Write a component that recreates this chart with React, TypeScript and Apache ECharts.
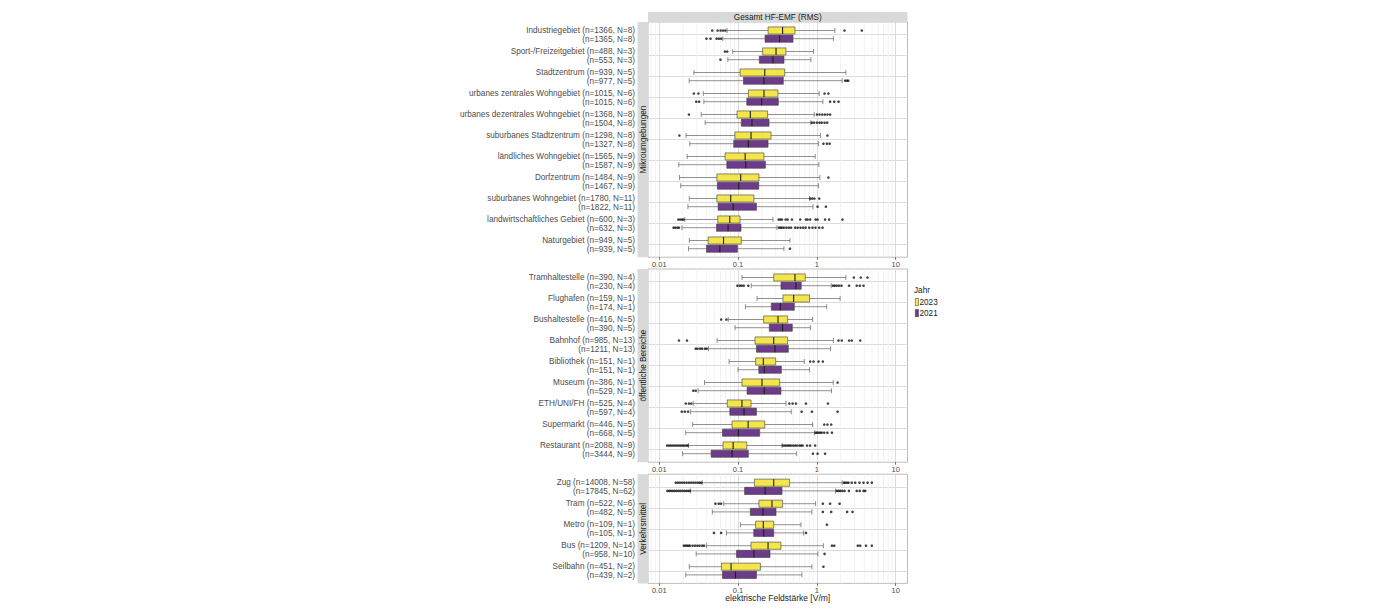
import React, { useEffect, useRef } from "react";
import * as echarts from "echarts";

// ---------- data ----------
const MIKRO_CATS = [
  "Industriegebiet", "Sport-/Freizeitgebiet", "Stadtzentrum", "urbanes zentrales Wohngebiet",
  "urbanes dezentrales Wohngebiet", "suburbanes Stadtzentrum", "ländliches Wohngebiet", "Dorfzentrum",
  "suburbanes Wohngebiet", "landwirtschaftliches Gebiet", "Naturgebiet",
];
const MIKRO_n23 = [1366, 488, 939, 1015, 1368, 1298, 1565, 1484, 1780, 600, 949];
const MIKRO_N23 = [8, 3, 5, 6, 8, 8, 9, 9, 11, 3, 5];
const MIKRO_n21 = [1365, 553, 977, 1015, 1504, 1327, 1587, 1467, 1822, 632, 939];
const MIKRO_N21 = [8, 3, 5, 6, 8, 8, 9, 9, 11, 3, 5];
// [lower whisker, q1, median, q3, upper whisker]
const MIKRO_S23 = [
  [0.0726, 0.24, 0.367, 0.527, 1.69], [0.0854, 0.205, 0.303, 0.405, 0.907], [0.0275, 0.106, 0.218, 0.39, 2.33],
  [0.0362, 0.135, 0.213, 0.321, 1.07], [0.0341, 0.097, 0.143, 0.237, 0.926], [0.0218, 0.091, 0.146, 0.262, 1.11],
  [0.0226, 0.0684, 0.123, 0.213, 0.952], [0.0181, 0.0538, 0.108, 0.184, 1.09], [0.0241, 0.0538, 0.0807, 0.159, 0.807],
  [0.0211, 0.0552, 0.0784, 0.106, 0.277], [0.0241, 0.0417, 0.0654, 0.11, 0.455],
];
const MIKRO_S21 = [
  [0.064, 0.22, 0.337, 0.497, 1.62], [0.0741, 0.186, 0.277, 0.382, 0.839], [0.024, 0.117, 0.213, 0.375, 2.09],
  [0.0368, 0.129, 0.199, 0.324, 1.19], [0.0382, 0.11, 0.15, 0.247, 0.839], [0.0244, 0.088, 0.135, 0.24, 1.05],
  [0.0177, 0.072, 0.125, 0.222, 1.06], [0.0187, 0.0546, 0.102, 0.183, 1.05], [0.0231, 0.0558, 0.0866, 0.171, 0.89],
  [0.0194, 0.0532, 0.0747, 0.109, 0.312], [0.0235, 0.0397, 0.0587, 0.0981, 0.382],
];
const MIKRO_O23 = [
  [0.047, 0.055, 0.06, 0.0645, 0.069, 2.24, 3.71], [0.068, 0.073], [], [0.0275, 0.0314, 1.25, 1.4],
  [0.0238, 1.0, 1.08, 1.17, 1.26, 1.36, 1.47], [0.018, 1.36], [], [1.4], [0.82, 0.87, 0.93, 1.07],
  [0.0175, 0.0185, 0.0195, 0.0203, 0.327, 0.343, 0.36, 0.401, 0.425, 0.482, 0.615, 0.726, 0.762, 0.823, 0.962, 1.02, 1.27, 1.43, 2.11],
  [],
];
const MIKRO_O21 = [
  [0.0397, 0.0447, 0.0534, 0.057, 0.061], [0.0597], [2.28, 2.4, 2.5], [0.0295, 0.0321, 1.47, 1.66, 1.88],
  [0.86, 0.92, 1.0, 1.08, 1.15, 1.25, 1.35], [1.21, 1.34, 1.45], [], [], [1.02, 1.3],
  [0.0152, 0.016, 0.017, 0.0178, 0.33, 0.345, 0.36, 0.38, 0.41, 0.44, 0.47, 0.53, 0.57, 0.62, 0.67, 0.72, 0.8, 0.88, 0.96, 1.07, 1.18],
  [0.455],
];

const OEFF_CATS = ["Tramhaltestelle", "Flughafen", "Bushaltestelle", "Bahnhof", "Bibliothek", "Museum", "ETH/UNI/FH", "Supermarkt", "Restaurant"];
const OEFF_n23 = [390, 159, 416, 985, 151, 386, 525, 446, 2088];
const OEFF_N23 = [4, 1, 5, 13, 1, 1, 4, 5, 9];
const OEFF_n21 = [230, 174, 390, 1211, 151, 529, 597, 668, 3444];
const OEFF_N21 = [4, 1, 5, 13, 1, 1, 4, 5, 9];
const OEFF_S23 = [
  [0.112, 0.283, 0.527, 0.712, 2.33], [0.174, 0.371, 0.507, 0.808, 1.97], [0.075, 0.211, 0.321, 0.425, 0.881],
  [0.0542, 0.164, 0.283, 0.425, 1.62], [0.0769, 0.167, 0.209, 0.3, 0.691], [0.0375, 0.112, 0.201, 0.337, 1.61],
  [0.027, 0.073, 0.112, 0.146, 0.405], [0.0265, 0.0838, 0.134, 0.218, 0.881], [0.0235, 0.0644, 0.0866, 0.129, 0.361],
];
const OEFF_S21 = [
  [0.147, 0.35, 0.542, 0.633, 1.52], [0.124, 0.264, 0.343, 0.517, 1.33], [0.0916, 0.249, 0.367, 0.487, 0.831],
  [0.0422, 0.171, 0.294, 0.434, 1.49], [0.1, 0.183, 0.215, 0.354, 0.808], [0.0311, 0.13, 0.215, 0.35, 1.53],
  [0.025, 0.0786, 0.119, 0.171, 0.473], [0.0217, 0.0634, 0.101, 0.188, 0.934], [0.0197, 0.0455, 0.0838, 0.135, 0.553],
];
const OEFF_O23 = [
  [2.94, 3.6, 4.38], [], [0.061, 0.071], [0.0178, 0.0225, 1.88, 2.07, 2.56, 2.77, 3.54], [0.823, 0.907, 1.05, 1.19],
  [1.83], [0.0217, 0.0238, 0.0255, 0.447, 0.492, 0.542, 0.726, 1.38], [1.24, 1.36, 1.52],
  [0.0126, 0.0133, 0.014, 0.0147, 0.0155, 0.0163, 0.0172, 0.0181, 0.019, 0.02, 0.021, 0.0222, 0.023,
    0.37, 0.39, 0.41, 0.43, 0.45, 0.47, 0.5, 0.53, 0.56, 0.6, 0.63, 0.66, 0.75, 0.82, 0.95],
];
const OEFF_O21 = [
  [0.098, 0.105, 0.111, 0.118, 0.135, 1.6, 1.68, 1.78, 1.9, 2.05, 2.56, 3.2, 3.5, 3.9], [], [],
  [0.029, 0.0306, 0.033, 0.035, 0.038, 0.04], [], [0.027, 0.029], [0.0193, 0.0211, 0.0232, 0.64, 0.864, 1.83],
  [0.96, 1.0, 1.05, 1.1, 1.15, 1.24, 1.36, 1.55], [0.89, 1.02, 1.27],
];

const VERK_CATS = ["Zug", "Tram", "Metro", "Bus", "Seilbahn"];
const VERK_n23 = [14008, 522, 109, 1209, 451];
const VERK_N23 = [58, 6, 1, 14, 2];
const VERK_n21 = [17845, 482, 105, 958, 439];
const VERK_N21 = [62, 5, 1, 10, 2];
const VERK_S23 = [
  [0.035, 0.161, 0.283, 0.451, 2.09], [0.0658, 0.184, 0.269, 0.367, 0.962], [0.107, 0.167, 0.209, 0.283, 0.627],
  [0.0398, 0.146, 0.24, 0.35, 1.21], [0.0241, 0.0616, 0.0815, 0.192, 0.864],
];
const VERK_S21 = [
  [0.025, 0.121, 0.22, 0.361, 1.72], [0.0472, 0.143, 0.207, 0.303, 0.864], [0.0713, 0.158, 0.211, 0.283, 0.678],
  [0.0294, 0.0954, 0.159, 0.254, 1.03], [0.0217, 0.0634, 0.0927, 0.171, 0.646],
];
const VERK_O23 = [
  [0.0162, 0.0172, 0.0183, 0.0195, 0.0208, 0.0222, 0.0237, 0.0253, 0.027, 0.0288, 0.0307, 0.0325, 0.0342,
    2.2, 2.28, 2.4, 2.52, 2.77, 3.06, 3.47, 3.9, 4.4, 4.97],
  [0.0516, 0.0568, 0.0609, 1.19, 1.47, 1.94], [1.34],
  [0.0205, 0.0215, 0.0225, 0.0235, 0.0245, 0.0265, 0.0285, 0.0305, 0.0325, 0.035, 0.037, 1.55, 1.66, 3.3, 3.54, 4.2, 4.97],
  [1.21],
];
const VERK_O21 = [
  [0.0127, 0.0134, 0.0141, 0.0149, 0.0157, 0.0166, 0.0175, 0.0185, 0.0196, 0.0208, 0.022, 0.0233, 0.0244,
    1.79, 1.88, 1.98, 2.1, 2.24, 2.55, 3.2, 3.5, 3.9, 4.1],
  [1.19, 1.52, 2.42, 2.83], [0.0494, 0.0609, 0.726], [1.25], [],
];

const X_TICKS = [0.01, 0.1, 1, 10];
const X_TICK_LABELS = ["0.01", "0.1", "1", "10"];
const X_MINOR = [0.008, 0.009, 0.02, 0.03, 0.04, 0.05, 0.06, 0.07, 0.08, 0.09, 0.2, 0.3, 0.4, 0.5, 0.6, 0.7, 0.8, 0.9, 2, 3, 4, 5, 6, 7, 8, 9];
const YEARS = ["2023", "2021"];
const STRIP_TOP = "Gesamt HF-EMF (RMS)";
const X_TITLE = "elektrische Feldstärke [V/m]";
const LEGEND_TITLE = "Jahr";

// ---------- style / layout ----------
const FONT = "'Liberation Sans', Arial, Helvetica, sans-serif";
const COL23 = "#F4E54A";
const COL21 = "#6E3B8B";
const GRID_MAJOR = "#DCDCDC";
const GRID_MINOR = "#EDEDED";
const BORDER = "#BDBDBD";
const STRIP_BG = "#D9D9D9";
const LABEL_COL = "#4D4D4D";
const X_MIN = 0.0072;
const X_MAX = 14.1;
const PLOT_LEFT = 648;
const PLOT_W = 259.5;
const UNIT = 21;
const PANEL_TOPS = [22, 269, 474.2];
const OFF = 0.195;
const BOX_HALF = 0.17;
const CAP_HALF = 0.12;
const FS = 8.2;

const PANELS = [
  { strip: "Mikroumgebungen", cats: MIKRO_CATS, n23: MIKRO_n23, N23: MIKRO_N23, n21: MIKRO_n21, N21: MIKRO_N21, s23: MIKRO_S23, s21: MIKRO_S21, o23: MIKRO_O23, o21: MIKRO_O21 },
  { strip: "öffentliche Bereiche", cats: OEFF_CATS, n23: OEFF_n23, N23: OEFF_N23, n21: OEFF_n21, N21: OEFF_N21, s23: OEFF_S23, s21: OEFF_S21, o23: OEFF_O23, o21: OEFF_O21 },
  { strip: "Verkehrsmittel", cats: VERK_CATS, n23: VERK_n23, N23: VERK_N23, n21: VERK_n21, N21: VERK_N21, s23: VERK_S23, s21: VERK_S21, o23: VERK_O23, o21: VERK_O21 },
];

function boxRender(offset: number) {
  return (params: any, api: any) => {
    const c = api.value(0);
    const yc = c + offset;
    const v = [1, 2, 3, 4, 5].map((i) => api.value(i));
    const P = (x: number, y: number) => api.coord([x, y]);
    const yMid = P(v[2], yc)[1];
    const yA = P(v[2], yc - BOX_HALF)[1];
    const yB = P(v[2], yc + BOX_HALF)[1];
    const yTop = Math.min(yA, yB);
    const yBot = Math.max(yA, yB);
    const cA = P(v[2], yc - CAP_HALF)[1];
    const cB = P(v[2], yc + CAP_HALF)[1];
    const cTop = Math.min(cA, cB);
    const cBot = Math.max(cA, cB);
    const xs = v.map((val) => P(val, yc)[0]);
    const wStyle = { stroke: "#626262", lineWidth: 0.7 };
    return {
      type: "group",
      children: [
        { type: "line", shape: { x1: xs[0], y1: yMid, x2: xs[1], y2: yMid }, style: wStyle },
        { type: "line", shape: { x1: xs[3], y1: yMid, x2: xs[4], y2: yMid }, style: wStyle },
        { type: "line", shape: { x1: xs[0], y1: cTop, x2: xs[0], y2: cBot }, style: wStyle },
        { type: "line", shape: { x1: xs[4], y1: cTop, x2: xs[4], y2: cBot }, style: wStyle },
        {
          type: "rect",
          shape: { x: xs[1], y: yTop, width: xs[3] - xs[1], height: yBot - yTop },
          style: { fill: api.visual("color"), stroke: "#3C3C3C", lineWidth: 0.6 },
        },
        { type: "line", shape: { x1: xs[2], y1: yTop, x2: xs[2], y2: yBot }, style: { stroke: "#1E1E1E", lineWidth: 1.1 } },
      ],
    };
  };
}

function buildOption() {
  const grid: any[] = [];
  const xAxis: any[] = [];
  const yAxis: any[] = [];
  const series: any[] = [];
  const graphic: any[] = [];

  PANELS.forEach((p, k) => {
    const n = p.cats.length;
    const top = PANEL_TOPS[k];
    const height = (n + 0.2) * UNIT;
    const labels = p.cats.map((c, i) => `${c} (n=${p.n23[i]}, N=${p.N23[i]})\n(n=${p.n21[i]}, N=${p.N21[i]})`);
    const idx = p.cats.map((_, i) => i);
    grid.push({ left: PLOT_LEFT, top, width: PLOT_W, height, show: true, borderColor: BORDER, borderWidth: 1, backgroundColor: "#fff" });
    xAxis.push({
      gridIndex: k, type: "log", logBase: 10, min: X_MIN, max: X_MAX, position: "bottom",
      axisLine: { show: false, onZero: false },
      axisTick: { show: true, length: 2.5, customValues: X_TICKS, lineStyle: { color: "#333", width: 0.7 } },
      axisLabel: {
        customValues: X_TICKS, fontSize: 7.5, color: LABEL_COL, margin: 3, fontFamily: FONT,
        formatter: (val: number) => X_TICK_LABELS[Math.round(Math.log10(val)) + 2],
      },
      splitLine: { show: true, lineStyle: { color: GRID_MAJOR, width: 1 } },
    });
    yAxis.push({
      gridIndex: k, type: "value", min: -0.6, max: n - 0.4, inverse: true,
      axisLine: { show: false, onZero: false },
      axisTick: { show: false, customValues: idx },
      axisLabel: {
        customValues: idx, fontSize: FS, color: LABEL_COL, margin: 13, lineHeight: 9, align: "right", fontFamily: FONT,
        formatter: (val: number) => labels[Math.round(val)] ?? "",
      },
      splitLine: { show: true, lineStyle: { color: GRID_MAJOR, width: 1 } },
    });
    // minor vertical grid lines
    series.push({
      type: "custom", xAxisIndex: k, yAxisIndex: k, z: 1, silent: true,
      data: X_MINOR.filter((v) => v > X_MIN && v < X_MAX).map((v) => [v, 0]),
      encode: { x: 0, y: 1 },
      renderItem: (params: any, api: any) => {
        const a = api.coord([api.value(0), -0.6]);
        const b = api.coord([api.value(0), n - 0.4]);
        return { type: "line", shape: { x1: a[0], y1: a[1], x2: b[0], y2: b[1] }, style: { stroke: GRID_MINOR, lineWidth: 0.7 } };
      },
    });
    [
      { name: YEARS[0], s: p.s23, o: p.o23, off: -OFF, col: COL23 },
      { name: YEARS[1], s: p.s21, o: p.o21, off: OFF, col: COL21 },
    ].forEach((yr) => {
      series.push({
        type: "custom", name: yr.name, xAxisIndex: k, yAxisIndex: k, z: 3,
        itemStyle: { color: yr.col },
        data: yr.s.map((st, i) => [i, ...st]),
        encode: { x: [1, 2, 3, 4, 5], y: 0 },
        renderItem: boxRender(yr.off),
      });
      const pts: number[][] = [];
      yr.o.forEach((arr, i) => arr.forEach((v) => pts.push([v, i + yr.off])));
      series.push({
        type: "scatter", name: yr.name + " outlier", xAxisIndex: k, yAxisIndex: k, z: 4,
        symbol: "circle", symbolSize: 2.6, itemStyle: { color: "#111" }, silent: true,
        data: pts,
      });
    });
    // left strip
    graphic.push({ type: "rect", shape: { x: 637.5, y: top, width: PLOT_LEFT - 637.5, height }, style: { fill: STRIP_BG }, z: 10 });
    graphic.push({
      type: "text", x: 643, y: top + height / 2, rotation: Math.PI / 2, z: 11,
      style: { text: p.strip, fontSize: FS, fill: "#1A1A1A", align: "center", verticalAlign: "middle", fontFamily: FONT },
    });
  });

  // top strip
  graphic.push({ type: "rect", shape: { x: PLOT_LEFT, y: 12, width: PLOT_W, height: 10 }, style: { fill: STRIP_BG }, z: 10 });
  graphic.push({
    type: "text", x: PLOT_LEFT + PLOT_W / 2, y: 17, z: 11,
    style: { text: STRIP_TOP, fontSize: FS, fill: "#1A1A1A", align: "center", verticalAlign: "middle", fontFamily: FONT },
  });
  // x title
  graphic.push({
    type: "text", x: PLOT_LEFT + PLOT_W / 2, y: 598, z: 11,
    style: { text: X_TITLE, fontSize: 8.5, fill: "#1A1A1A", align: "center", verticalAlign: "middle", fontFamily: FONT },
  });
  // legend
  graphic.push({ type: "text", x: 914, y: 290.5, z: 11, style: { text: LEGEND_TITLE, fontSize: FS, fill: "#1A1A1A", align: "left", verticalAlign: "middle", fontFamily: FONT } });
  [COL23, COL21].forEach((col, i) => {
    const y = 298.5 + i * 11;
    graphic.push({ type: "rect", shape: { x: 915.3, y, width: 3.2, height: 7.2 }, style: { fill: col, stroke: "#333", lineWidth: 0.5 }, z: 11 });
    graphic.push({ type: "text", x: 919.5, y: y + 3.8, z: 11, style: { text: YEARS[i], fontSize: FS, fill: "#1A1A1A", align: "left", verticalAlign: "middle", fontFamily: FONT } });
  });

  return {
    animation: false,
    backgroundColor: "#fff",
    textStyle: { fontFamily: FONT },
    grid, xAxis, yAxis, series, graphic,
  };
}

export default function App() {
  const ref = useRef<HTMLDivElement>(null);
  useEffect(() => {
    const chart = echarts.init(ref.current as HTMLDivElement, null, { renderer: "svg" });
    chart.setOption(buildOption() as any);
    return () => chart.dispose();
  }, []);
  return <div ref={ref} style={{ position: "fixed", left: 0, top: 0, width: 1400, height: 613, background: "#fff" }} />;
}
